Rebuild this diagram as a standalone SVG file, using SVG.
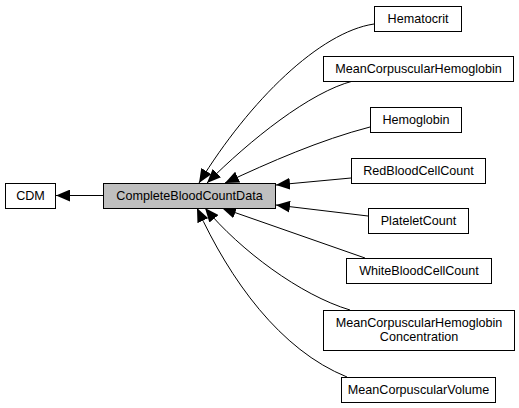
<svg xmlns="http://www.w3.org/2000/svg" width="519" height="408" viewBox="0 0 519 408">
<style>
.n rect{fill:#fff;stroke:#000;stroke-width:1}
.n.cur rect{fill:#bfbfbf}
.n text{font-family:"Liberation Sans",Arial,sans-serif;font-size:12.6px;fill:#000;text-anchor:middle}
.e path{fill:none;stroke:#000;stroke-width:1;marker-end:url(#ah)}
</style>
<defs>
<marker id="ah" markerUnits="userSpaceOnUse" markerWidth="14" markerHeight="12" refX="13" refY="5.5" orient="auto" viewBox="0 0 13 11">
<polygon points="0,0 13,5.5 0,11" fill="#000"/>
</marker>
</defs>
<rect width="519" height="408" fill="#fff"/>
<g class="e" id="edges">
<path d="M103,195.5 L56,195.5"/>
<path d="M374,24 C320,32 250,100 199,183"/>
<path d="M353,81 C310,92 250,140 207,183"/>
<path d="M370,127 C320,140 270,162 225,183"/>
<path d="M351,178 L276,185"/>
<path d="M368,216 L276,205"/>
<path d="M365,258 L222,208"/>
<path d="M350,310 C300,295 240,250 205,208"/>
<path d="M347,377 C280,350 230,280 197,208"/>
</g>
<g class="n" id="CDM"><rect x="5.5" y="183.5" width="50" height="25"/><text x="30.5" y="200">CDM</text></g>
<g class="n cur" id="CompleteBloodCountData"><rect x="103.5" y="183.5" width="172" height="25"/><text x="189.5" y="200">CompleteBloodCountData</text></g>
<g class="n" id="Hematocrit"><rect x="374.5" y="6.5" width="87" height="25"/><text x="418" y="23">Hematocrit</text></g>
<g class="n" id="MeanCorpuscularHemoglobin"><rect x="323.5" y="56.5" width="190" height="25"/><text x="418.5" y="73">MeanCorpuscularHemoglobin</text></g>
<g class="n" id="Hemoglobin"><rect x="370.5" y="107.5" width="91" height="25"/><text x="416" y="124">Hemoglobin</text></g>
<g class="n" id="RedBloodCellCount"><rect x="351.5" y="158.5" width="134" height="25"/><text x="418.5" y="175">RedBloodCellCount</text></g>
<g class="n" id="PlateletCount"><rect x="368.5" y="208.5" width="100" height="25"/><text x="418.5" y="225">PlateletCount</text></g>
<g class="n" id="WhiteBloodCellCount"><rect x="346.5" y="258.5" width="145" height="25"/><text x="419" y="275">WhiteBloodCellCount</text></g>
<g class="n" id="MeanCorpuscularHemoglobinConcentration"><rect x="323.5" y="310.5" width="191" height="40"/><text x="419" y="327">MeanCorpuscularHemoglobin</text><text x="419" y="341">Concentration</text></g>
<g class="n" id="MeanCorpuscularVolume"><rect x="341.5" y="377.5" width="154" height="25"/><text x="418.5" y="394">MeanCorpuscularVolume</text></g>
</svg>
